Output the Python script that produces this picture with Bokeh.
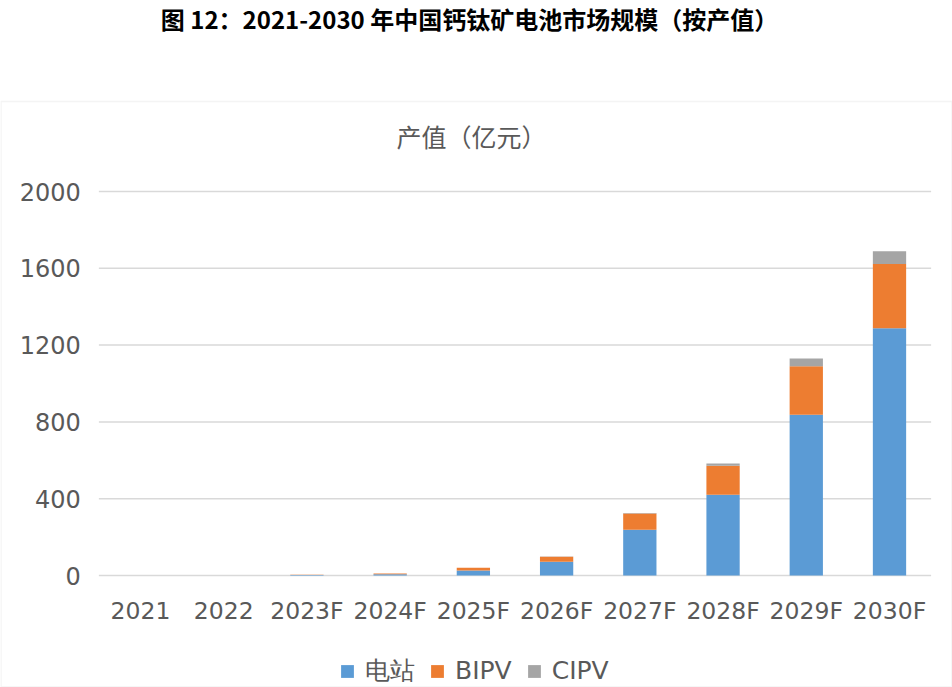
from bokeh.plotting import figure
from bokeh.models import Range1d, Label, BoxAnnotation
from bokeh.embed import file_html
from bokeh.resources import INLINE

years = ["2021", "2022", "2023F", "2024F", "2025F", "2026F", "2027F", "2028F", "2029F", "2030F"]
station = [0, 0, 3, 7, 26, 71, 238, 420, 837, 1288]
bipv = [0, 0, 1, 3, 14, 27, 85, 151, 253, 335]
cipv = [0, 0, 0, 0, 1, 1, 3, 12, 40, 66]
series = ["电站", "BIPV", "CIPV"]
colors = ["#5B9BD5", "#ED7D31", "#A5A5A5"]
yticks = [0, 400, 800, 1200, 1600, 2000]
ytick_labels = [str(t) for t in yticks]

FONT = "DejaVu Sans"
CJK = "Noto Sans CJK SC"
GRAY = "#595959"
GRID = "#D9D9D9"

W, H = 952, 687
idx = list(range(len(years)))

# The plotting frame covers the whole canvas; ranges are chosen so that
# value 0 sits at y=575 px and 2000 at y=191 px, categories spaced ~83 px apart.
p = figure(width=W, height=H, x_range=Range1d(-1.682, 9.757), y_range=Range1d(-583.3, 2994.8),
           output_backend="svg", toolbar_location=None,
           x_axis_location=None, y_axis_location=None,
           min_border_left=0, min_border_right=0, min_border_top=0, min_border_bottom=0)
p.outline_line_color = None
p.xgrid.visible = False
p.ygrid.visible = False

# horizontal gridlines
p.segment(x0=[-0.5] * len(yticks), x1=[len(years) - 0.5] * len(yticks), y0=yticks, y1=yticks,
          line_color=GRID, line_width=1.5)

data = dict(x=idx, 电站=station, BIPV=bipv, CIPV=cipv)
p.vbar_stack(series, x="x", width=0.4, color=colors, source=data,
             line_color=None, legend_label=series)

# y tick labels
p.text(x=[-0.5] * len(yticks), y=yticks, text=ytick_labels, x_offset=-18,
       text_align="right", text_baseline="middle", text_font_size="24px",
       text_font={"value": FONT}, text_color=GRAY)
# x category labels
p.text(x=idx, y=[0] * len(years), text=years, y_offset=35,
       text_align="center", text_baseline="middle", text_font_size="23.5px",
       text_font={"value": FONT}, text_color=GRAY)

leg = p.legend[0]
leg.orientation = "horizontal"
leg.location = (339, 0)
leg.padding = 2
leg.margin = 0
leg.label_text_font = FONT
leg.label_text_font_size = "25px"
leg.label_text_color = GRAY
leg.glyph_width = 16
leg.glyph_height = 16
leg.label_standoff = 10
leg.spacing = 14
leg.border_line_color = None
leg.background_fill_alpha = 0

# outer chart border (screen units measured from the bottom-left of the canvas)
p.add_layout(BoxAnnotation(left=0.5, right=W - 0.5, top=H - 101, bottom=0.5,
                           left_units="screen", right_units="screen", top_units="screen", bottom_units="screen",
                           fill_alpha=0, line_color=GRID, line_width=1.5, level="underlay"))

p.add_layout(Label(x=469, y=H - 18, x_units="screen", y_units="screen",
                   text="图 12：2021-2030 年中国钙钛矿电池市场规模（按产值）",
                   text_font=CJK, text_font_style="bold", text_font_size="24px", text_align="center",
                   text_baseline="middle", text_color="black"))
p.add_layout(Label(x=471, y=H - 135, x_units="screen", y_units="screen", text="产值（亿元）",
                   text_font=CJK, text_font_size="25px", text_align="center",
                   text_baseline="middle", text_color=GRAY))

open("out.html", "w").write(file_html(p, INLINE))
